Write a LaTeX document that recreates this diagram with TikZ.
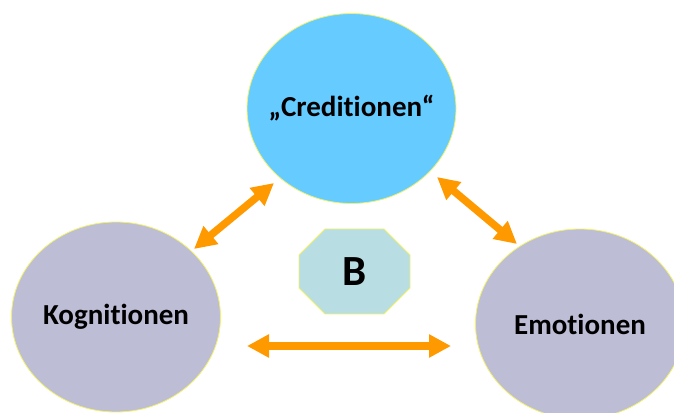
\documentclass[tikz,border=0pt]{standalone}
\usepackage{fontspec}
\setmainfont{Carlito}[Ligatures={NoCommon}]
\usetikzlibrary{arrows.meta,shapes.geometric,shapes.misc}

\definecolor{credfill}{HTML}{66CCFF}
\definecolor{mindfill}{HTML}{BDBDD6}
\definecolor{octfill}{HTML}{B8DEE3}
\definecolor{rim}{HTML}{F2F26A}
\definecolor{arrorange}{HTML}{FF9900}

\tikzset{
  % negative inner sep keeps the ellipse at its minimum size
  bubble/.style={ellipse, draw=rim, line width=0.8pt,
    minimum width=209pt, minimum height=190pt, inner sep=-40pt,
    font=\bfseries\fontsize{29}{33}\selectfont},
  centerbox/.style={chamfered rectangle, chamfered rectangle sep=24pt,
    draw=rim, line width=0.8pt, fill=octfill,
    minimum width=111pt, minimum height=85pt, inner sep=0pt,
    font=\bfseries\fontsize{43}{47}\selectfont},
  link/.style={draw=arrorange, line width=7.5pt,
    {Triangle[length=22pt,width=22pt]}-{Triangle[length=22pt,width=22pt]}}
}

\begin{document}
\begin{tikzpicture}[x=1pt,y=1pt]
  \useasboundingbox (0,0) rectangle (674,412);

  % the three mental states
  \node[bubble, fill=credfill] (cred) at (351.5,303.5) {„Creditionen“};
  \node[bubble, fill=mindfill] (kog)  at (116,95) {Kognitionen};
  \node[bubble, fill=mindfill] (emo)  at (580,88) {Emotionen};

  % the centre
  \node[centerbox] (b) at (354.5,140.5) {B};

  % arrow end points next to the bubbles
  \coordinate (k1) at ([shift={(78,68)}]kog.center);
  \coordinate (c1) at ([shift={(-77.5,-74.5)}]cred.center);
  \coordinate (c2) at ([shift={(85.5,-68.5)}]cred.center);
  \coordinate (e1) at ([shift={(-63,80)}]emo.center);
  \coordinate (k2) at ([shift={(131,-29)}]kog.center);
  \coordinate (e2) at ([shift={(-129,-22)}]emo.center);

  \draw[link] (k1) -- (c1);
  \draw[link] (c2) -- (e1);
  \draw[link] (k2) -- (e2);
\end{tikzpicture}
\end{document}
